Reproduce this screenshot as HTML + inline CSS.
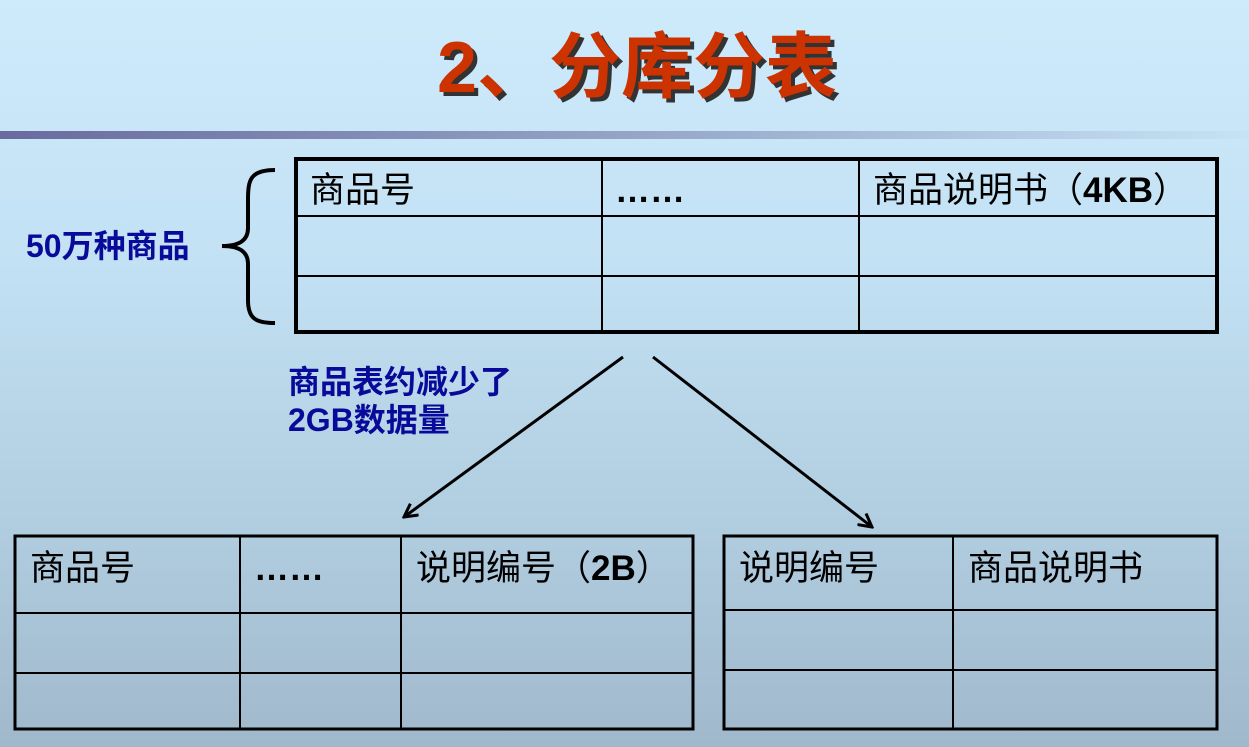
<!DOCTYPE html>
<html><head><meta charset="utf-8"><style>
html,body{margin:0;padding:0}
body{width:1249px;height:747px;overflow:hidden;background:linear-gradient(#cdebfb 0%,#c3e1f4 35%,#b1cde0 70%,#a0b8cb 100%);font-family:"Liberation Sans","Noto Sans CJK SC",sans-serif}
</style></head><body>
<svg width="1249" height="747" xmlns="http://www.w3.org/2000/svg" style="position:absolute;left:0;top:0">
<defs>
<linearGradient id="bar" x1="0" x2="1"><stop offset="0" stop-color="#6a6a9e"/><stop offset="0.5" stop-color="#94a4c6"/><stop offset="1" stop-color="#c6e2f4"/></linearGradient>
<marker id="ah" markerWidth="16" markerHeight="16" refX="14" refY="8" orient="auto" markerUnits="userSpaceOnUse"><path d="M1,1 L14,8 L1,15" fill="none" stroke="#000" stroke-width="3"/></marker>
</defs>
<rect x="0" y="131" width="1249" height="8" fill="url(#bar)"/>
<g font-family="Liberation Sans, Noto Sans CJK SC, sans-serif" font-weight="bold" font-size="72" text-anchor="middle">
<text x="641" y="96" fill="#333">2、分库分表</text>
<text x="637" y="92" fill="#cc3300">2、分库分表</text>
</g>
<g stroke="#000" fill="none">
<rect x="296" y="159" width="921" height="173" stroke-width="4"/>
<line x1="296" y1="216" x2="1217" y2="216" stroke-width="2"/>
<line x1="296" y1="276" x2="1217" y2="276" stroke-width="2"/>
<line x1="602" y1="159" x2="602" y2="332" stroke-width="2"/>
<line x1="859" y1="159" x2="859" y2="332" stroke-width="2"/>
<path d="M275,170 C250,170 248,180 248,200 L248,228 C248,240 240,246 222,246 C240,246 248,252 248,264 L248,300 C248,318 255,323 275,323" stroke-width="4"/>
<rect x="15" y="536" width="678" height="193" stroke-width="3"/>
<line x1="15" y1="613" x2="693" y2="613" stroke-width="2"/>
<line x1="15" y1="673" x2="693" y2="673" stroke-width="2"/>
<line x1="240" y1="536" x2="240" y2="729" stroke-width="2"/>
<line x1="401" y1="536" x2="401" y2="729" stroke-width="2"/>
<rect x="724" y="536" width="493" height="193" stroke-width="3"/>
<line x1="724" y1="610" x2="1217" y2="610" stroke-width="2"/>
<line x1="724" y1="670" x2="1217" y2="670" stroke-width="2"/>
<line x1="953" y1="536" x2="953" y2="729" stroke-width="2"/>
<line x1="623" y1="357" x2="404" y2="517" stroke-width="3" marker-end="url(#ah)"/>
<line x1="653" y1="357" x2="872" y2="527" stroke-width="3" marker-end="url(#ah)"/>
</g>
<g font-family="Liberation Sans, Noto Sans CJK SC, sans-serif" font-size="35" fill="#000">
<text x="310" y="202">商品号</text>
<text x="615" y="202" font-weight="bold">……</text>
<text x="873" y="202">商品说明书（<tspan font-weight="bold">4KB</tspan>）</text>
<text x="30" y="580">商品号</text>
<text x="254" y="580" font-weight="bold">……</text>
<text x="416" y="580">说明编号（<tspan font-weight="bold">2B</tspan>）</text>
<text x="739" y="580">说明编号</text>
<text x="968" y="580">商品说明书</text>
</g>
<g font-family="Liberation Sans, Noto Sans CJK SC, sans-serif" font-size="32" fill="#0a0a9a" font-weight="bold">
<text x="26" y="257">50万种商品</text>
<text x="288" y="393">商品表约减少了</text>
<text x="288" y="431">2GB数据量</text>
</g>
</svg>
</body></html>
